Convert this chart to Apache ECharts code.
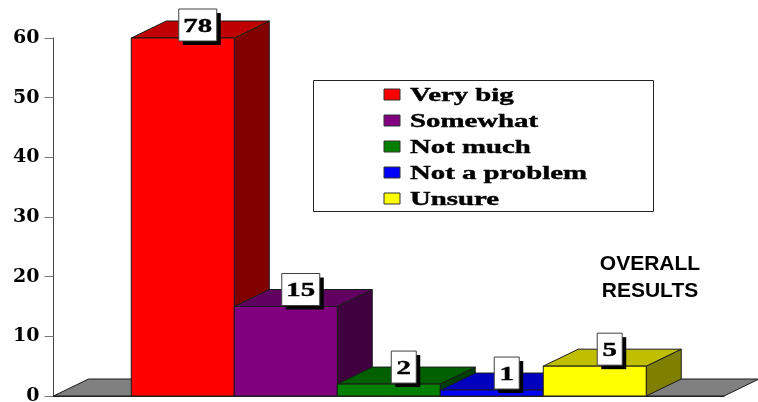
<!DOCTYPE html>
<html>
<head>
    <meta charset="UTF-8">
    <title>Overall results</title>
    <script src="https://cdn.jsdelivr.net/npm/echarts@6/dist/echarts.min.js"></script>
    <style>
        html, body { margin: 0; padding: 0; background: #fff; }
        #chart { width: 758px; height: 402px; }
    </style>
</head>
<body>
<div id="chart"></div>
<script>
    var categories = ['Overall'];
    var seriesNames = ['Very big', 'Somewhat', 'Not much', 'Not a problem', 'Unsure'];
    var seriesValues = [78, 15, 2, 1, 5];
    var seriesColors = ['#ff0000', '#800080', '#008000', '#0000ff', '#ffff00'];
    var axisMax = 60;

    var DEPTH_X = 35;
    var DEPTH_Y = 17;
    var BAR_SHARE = 0.1536; // share of the band per bar
    var SERIF = '"Liberation Serif"';
    var STRETCH = 1.6; // the reference's serif text is drawn wide

    function shade(color, k) {
        var c = echarts.color.parse(color);
        return 'rgb(' + Math.round(c[0] * k) + ',' + Math.round(c[1] * k) + ',' + Math.round(c[2] * k) + ')';
    }

    function poly(points, fill) {
        return {
            type: 'polygon',
            shape: {points: points},
            style: {fill: fill, stroke: '#1a1a1a', lineWidth: 1}
        };
    }

    function wideText(x, y, text, align) {
        return {
            type: 'text',
            x: x, y: y, scaleX: STRETCH,
            style: {
                x: 0, y: 0, text: text, align: align, verticalAlign: 'middle',
                fontFamily: SERIF, fontWeight: 'bold', fontSize: 18, fill: '#000',
                stroke: '#000', lineWidth: 0.4
            }
        };
    }

    function renderBar(params, api) {
        var i = params.seriesIndex - 1;
        var band = api.size([1, 0])[0];
        var w = band * BAR_SHARE;
        var center = api.coord([0, 0])[0];
        var x0 = center + (i - 2.5) * w;
        var x1 = x0 + w;
        var base = api.coord([0, 0])[1];
        var top = api.coord([0, Math.min(api.value(1), axisMax)])[1];
        var color = seriesColors[i];
        var dx = DEPTH_X, dy = DEPTH_Y;

        var text = String(api.value(1));
        var boxW = text.length > 1 ? 38 : 25;
        var boxH = 32;
        var cx = (x0 + x1) / 2 + 15;
        var cy = Math.max(top - 17, 25);

        return {
            type: 'group',
            children: [
                poly([[x1, base], [x1 + dx, base - dy], [x1 + dx, top - dy], [x1, top]], shade(color, 0.5)),
                poly([[x0, top], [x0 + dx, top - dy], [x1 + dx, top - dy], [x1, top]], shade(color, 0.75)),
                poly([[x0, base], [x0, top], [x1, top], [x1, base]], color),
                {
                    type: 'rect',
                    shape: {x: cx - boxW / 2 + 4, y: cy - boxH / 2 + 4, width: boxW, height: boxH},
                    style: {fill: '#000'}
                },
                {
                    type: 'rect',
                    shape: {x: cx - boxW / 2, y: cy - boxH / 2, width: boxW, height: boxH},
                    style: {fill: '#fff', stroke: '#404040', lineWidth: 1}
                },
                wideText(cx, cy + 2, text, 'center')
            ]
        };
    }

    function renderFloor(params) {
        var g = params.coordSys;
        var b = g.y + g.height;
        return poly([[g.x, b], [g.x + DEPTH_X, b - DEPTH_Y], [g.x + g.width + DEPTH_X, b - DEPTH_Y], [g.x + g.width, b]], '#808080');
    }

    var series = [{
        name: 'floor', type: 'custom', renderItem: renderFloor, clip: false, silent: true,
        encode: {x: 0, y: 1}, data: [[0, 0]]
    }];
    seriesNames.forEach(function (name, i) {
        series.push({
            name: name,
            type: 'custom',
            renderItem: renderBar,
            clip: false,
            encode: {x: 0, y: 1},
            itemStyle: {color: seriesColors[i]},
            data: [[0, seriesValues[i]]]
        });
    });

    // legend box, built by hand so its text can be stretched like the reference
    var legendItems = [{
        type: 'rect',
        shape: {x: 313.5, y: 80.5, width: 340, height: 131},
        style: {fill: '#fff', stroke: '#222', lineWidth: 1}
    }];
    seriesNames.forEach(function (name, i) {
        var y = 94.5 + i * 26;
        legendItems.push({
            type: 'rect',
            shape: {x: 384, y: y - 5.5, width: 16, height: 11},
            style: {fill: seriesColors[i], stroke: '#333', lineWidth: 1}
        });
        legendItems.push(wideText(410, y + 1.5, name, 'left'));
    });

    var myChart = echarts.init(document.getElementById('chart'));
    myChart.setOption({
        animation: false,
        backgroundColor: '#fff',
        title: {
            text: 'OVERALL\nRESULTS',
            left: 645, top: 246, textAlign: 'center',
            textStyle: {fontFamily: '"Liberation Sans"', fontWeight: 'bold', fontSize: 21, lineHeight: 27, color: '#000'}
        },
        graphic: {elements: legendItems},
        grid: {left: 53.5, right: 34, top: 38, bottom: 6, outerBoundsMode: 'none'},
        xAxis: {
            type: 'category',
            data: categories,
            axisLine: {lineStyle: {color: '#222'}},
            axisTick: {length: 5, lineStyle: {color: '#333'}},
            axisLabel: {show: false},
            z: 5
        },
        yAxis: {
            type: 'value',
            min: 0, max: axisMax, interval: 10,
            splitLine: {show: false},
            axisLine: {show: true, lineStyle: {color: '#444'}},
            axisTick: {show: true, length: 9, lineStyle: {color: '#777'}},
            axisLabel: {fontFamily: '"DejaVu Serif"', fontWeight: 'bold', fontSize: 19, color: '#000', margin: 14}
        },
        series: series
    });
</script>
</body>
</html>
